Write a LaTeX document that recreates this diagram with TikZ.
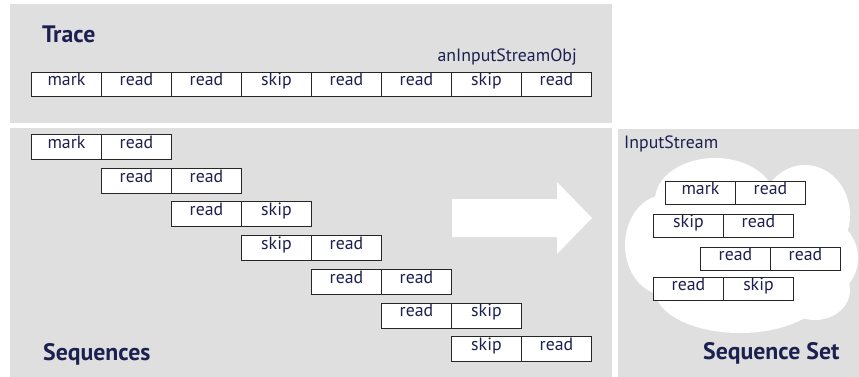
\documentclass[tikz,border=0pt]{standalone}
\usepackage{fontspec}
\setmainfont{PT Sans}
\definecolor{panelgray}{HTML}{DFDFDF}
\definecolor{navy}{HTML}{1C2050}
\newcommand{\cellfont}{\fontsize{17.8}{20}\selectfont}
\newcommand{\titlefont}{\fontsize{23.8}{27}\selectfont\bfseries}
\tikzset{
  panel/.style={fill=panelgray, draw=none},
  cell/.style={draw=black!85, line width=0.9pt, fill=white,
    minimum width=70pt, minimum height=24pt, inner sep=0pt,
    anchor=north west, text height=9pt, text depth=6pt,
    font=\cellfont, text=navy},
  seqcell/.style={cell, minimum height=25pt},
  title/.style={anchor=base west, inner sep=0pt, font=\titlefont, text=navy},
  caption/.style={inner sep=0pt, font=\cellfont, text=navy},
}
\begin{document}
\begin{tikzpicture}[x=1pt, y=-1pt]
  \useasboundingbox (0,0) rectangle (859,377);
  \fill[white] (0,0) rectangle (859,377);

  % panels
  \fill[panel] (10,4) rectangle (612,123);
  \fill[panel] (10,128) rectangle (612,377);
  \fill[panel] (618,129) rectangle (859,377);

  % trace
  \node[title] (tracetitle) at (42,43) {Trace};
  \node[caption, anchor=base east] (objname) at (577,62) {anInputStreamObj};
  \foreach \w [count=\i from 0] in {mark,read,read,skip,read,read,skip,read}
    \node[cell] (t\i) at (31+70*\i,72) {\w};

  % sequences, each shifted by one call
  \foreach \a/\b [count=\k from 0] in
      {mark/read, read/read, read/skip, skip/read, read/read, read/skip, skip/read} {
    \node[seqcell] (s\k a) at (31+70*\k,134+33.7*\k) {\a};
    \node[seqcell] (s\k b) at (101+70*\k,134+33.7*\k) {\b};
  }
  \node[title] (seqtitle) at (43,360) {Sequences};

  % transformation arrow
  \fill[white] (452,199) -- (557,199) -- (557,182) -- (592,218)
    -- (557,254) -- (557,237) -- (452,237) -- cycle;

  % sequence set cloud
  \begin{scope}[white]
    \fill (715,200) ellipse [x radius=60, y radius=42];
    \fill (805,215) ellipse [x radius=45, y radius=50];
    \fill (820,258) ellipse [x radius=38, y radius=40];
    \fill (665,245) ellipse [x radius=40, y radius=50];
    \fill (740,290) ellipse [x radius=85, y radius=43];
    \fill (815,290) ellipse [x radius=35, y radius=30];
    \fill (740,240) ellipse [x radius=80, y radius=50];
  \end{scope}
  \node[caption, anchor=base west] (streamname) at (624,149) {InputStream};
  \foreach \x/\y/\a/\b [count=\k] in
      {665/181/mark/read, 653/214/skip/read, 700/247/read/read, 653/277/read/skip} {
    \node[cell, minimum height=23pt] (c\k a) at (\x,\y) {\a};
    \node[cell, minimum height=23pt] (c\k b) at (\x+70,\y) {\b};
  }
  \node[title] (settitle) at (703,359) {Sequence Set};
\end{tikzpicture}
\end{document}
